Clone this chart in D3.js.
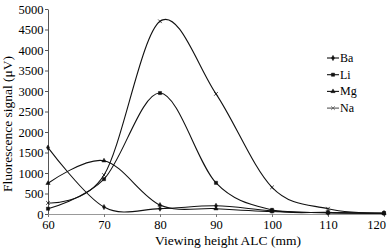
<!DOCTYPE html>
<html>
<head>
<meta charset="utf-8">
<script src="https://cdn.jsdelivr.net/npm/d3@7"></script>
<style>
  body { margin: 0; background: #fff; }
</style>
</head>
<body>
<div id="chart"></div>
<script>
(function () {

const serif = "'Liberation Serif', 'Times New Roman', Tinos, serif";

// viewing heights (mm)
const heights = [60, 70, 80, 90, 100, 110, 120];

// fluorescence signal (uV)
const ba = [1620, 170, 130, 200, 80, 30, 20];
const li = [130, 850, 2950, 760, 100, 40, 20];
const mg = [750, 1300, 220, 130, 60, 30, 20];
const na = [270, 950, 4700, 2930, 650, 130, 20];

const seriesNames = ["Ba", "Li", "Mg", "Na"];
const seriesValues = [ba, li, mg, na];
const yTicks = [0, 500, 1000, 1500, 2000, 2500, 3000, 3500, 4000, 4500, 5000];

const W = 392, H = 251;
const margin = {top: 9, right: 8, bottom: 37, left: 48};
const width = W - margin.left - margin.right,
      height = H - margin.top - margin.bottom;

const svg = d3.select("#chart").append("svg")
    .attr("width", W)
    .attr("height", H);

const g = svg.append("g")
    .attr("transform", "translate(" + margin.left + "," + margin.top + ")");

const x = d3.scaleLinear().domain([60, 120]).range([0, width]);
const y = d3.scaleLinear().domain([0, 5000]).range([height, 0]);

// y axis
const yAxis = g.append("g")
    .call(d3.axisLeft(y).tickValues(yTicks).tickFormat(d3.format("d")).tickSize(3).tickSizeOuter(0));
yAxis.attr("font-family", null);
yAxis.selectAll("text")
    .style("font-family", serif).style("font-size", "12.5px").attr("x", -4.5).attr("fill", "#000");
yAxis.select(".domain").attr("stroke", "#555");
yAxis.selectAll(".tick line").attr("stroke", "#555");

// x axis
const xAxis = g.append("g")
    .attr("transform", "translate(0," + height + ")")
    .call(d3.axisBottom(x).tickValues(heights).tickSize(3).tickSizeOuter(0));
xAxis.attr("font-family", null);
xAxis.selectAll("text")
    .style("font-family", serif).style("font-size", "12.5px").attr("y", 6).attr("fill", "#000");
// last label is pulled in so it stays inside the picture
xAxis.selectAll("text").filter(d => d === 120).attr("dx", -8);
xAxis.select(".domain").attr("stroke", "#999");
xAxis.selectAll(".tick line").attr("stroke", "#777");

// axis titles
svg.append("text")
    .attr("x", 228)
    .attr("y", 245)
    .attr("text-anchor", "middle")
    .style("font-family", serif)
    .style("font-size", "13.5px")
    .text("Viewing height ALC (mm)");

svg.append("text")
    .attr("transform", "translate(12,124) rotate(-90)")
    .attr("text-anchor", "middle")
    .style("font-family", serif)
    .style("font-size", "13.5px")
    .text("Fluorescence signal (\u03bcV)");

// smoothed lines like the spreadsheet
const line = d3.line()
    .x((d, i) => x(heights[i]))
    .y(d => y(d))
    .curve(d3.curveCatmullRom.alpha(0));

const symbols = [d3.symbolDiamond, d3.symbolSquare, d3.symbolTriangle, d3.symbolTimes];
const sizes = [8, 10, 8, 10];

seriesValues.forEach((vals, k) => {
  g.append("path")
      .datum(vals)
      .attr("d", line)
      .attr("fill", "none")
      .attr("stroke", "#111")
      .attr("stroke-width", 1.1);

  g.selectAll(".pt" + k)
    .data(vals)
    .join("path")
      .attr("class", "pt" + k)
      .attr("transform", (d, i) => "translate(" + x(heights[i]) + "," + y(d) + ")")
      .attr("d", d3.symbol(symbols[k], sizes[k]))
      .attr("fill", k == 3 ? "none" : "#111")
      .attr("stroke", "#111")
      .attr("stroke-width", k == 3 ? 0.8 : 0.5);
});

// legend
const legend = svg.append("g").attr("transform", "translate(327,58)");
seriesNames.forEach((name, k) => {
  const row = legend.append("g").attr("transform", "translate(0," + (k * 16.7) + ")");
  row.append("line")
      .attr("x1", 0).attr("x2", 12)
      .attr("stroke", k == 3 ? "#555" : "#111").attr("stroke-width", 1.1);
  row.append("path")
      .attr("transform", "translate(6,0)")
      .attr("d", d3.symbol(symbols[k], sizes[k]))
      .attr("fill", k == 3 ? "none" : "#111")
      .attr("stroke", k == 3 ? "#555" : "#111")
      .attr("stroke-width", k == 3 ? 0.8 : 0.5);
  row.append("text")
      .attr("x", 13)
      .attr("y", 4)
      .style("font-family", serif)
      .style("font-size", "12px")
      .text(name);
});

})()
</script>
</body>
</html>
